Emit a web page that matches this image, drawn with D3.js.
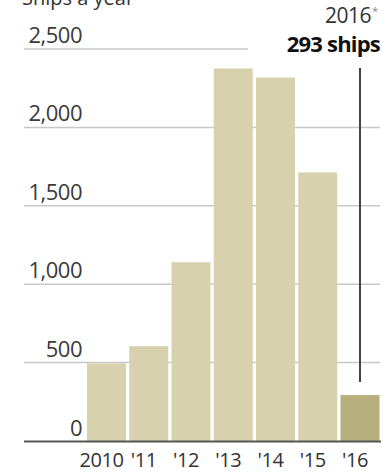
<!DOCTYPE html>
<html>
<head>
<meta charset="utf-8">
<script src="https://cdn.jsdelivr.net/npm/d3@7"></script>
<style>
  html, body { margin: 0; padding: 0; background: #fff; }
  svg { display: block; font-family: "Open Sans", "Noto Sans", sans-serif; }
</style>
</head>
<body>
<svg id="chart" width="383" height="472"></svg>
<script>
const categories = ["2010", "'11", "'12", "'13", "'14", "'15", "'16"];
const ships = [495, 605, 1140, 2376, 2318, 1713, 293];
const yTicks = [0, 500, 1000, 1500, 2000, 2500];
const highlightCategory = "'16";
const calloutYear = "2016";
const calloutValue = "293 ships";

const svg = d3.select("#chart");

const x = d3.scaleBand().domain(categories).range([87, 379.5]).paddingInner(0.077).paddingOuter(0);
const y = d3.scaleLinear().domain([0, 2500]).range([441, 49]);

// top title remnant (cut off at the top edge, as in the reference)
svg.append("text").attr("x", 22).attr("y", 5)
  .attr("font-size", 20).attr("fill", "#333").text("Ships a year");

// gridlines
svg.append("g").selectAll("line").data(yTicks.filter(d => d > 0)).join("line")
  .attr("x1", 24)
  .attr("x2", d => d === 2500 ? 248 : 380)
  .attr("y1", d => y(d)).attr("y2", d => y(d))
  .attr("stroke", "#c8c8c8").attr("stroke-width", 1.5);

// y labels
svg.append("g").selectAll("text").data(yTicks).join("text")
  .attr("x", 82)
  .attr("y", d => d === 0 ? 436 : y(d) - 6)
  .attr("text-anchor", "end")
  .attr("font-size", 22).attr("fill", "#3a3a3a")
  .attr("letter-spacing", -0.5)
  .text(d => d3.format(",")(d));

// bars
svg.append("g").selectAll("rect").data(categories).join("rect")
  .attr("x", d => x(d))
  .attr("width", x.bandwidth())
  .attr("y", (d, i) => y(ships[i]))
  .attr("height", (d, i) => y(0) - y(ships[i]))
  .attr("fill", d => d === highlightCategory ? "#b6ae7c" : "#d7d1ae");

// baseline
svg.append("line").attr("x1", 24).attr("x2", 381)
  .attr("y1", y(0) + 0.5).attr("y2", y(0) + 0.5)
  .attr("stroke", "#555").attr("stroke-width", 2);

// x labels
svg.append("g").selectAll("text").data(categories).join("text")
  .attr("x", d => x(d) + x.bandwidth() / 2 - 5)
  .attr("y", 467)
  .attr("text-anchor", "middle")
  .attr("font-size", 20).attr("fill", "#333")
  .attr("letter-spacing", -0.5)
  .text(d => d);

// callout
const hx = x(highlightCategory) + x.bandwidth() / 2;
const hi = categories.indexOf(highlightCategory);
svg.append("line").attr("x1", hx).attr("x2", hx)
  .attr("y1", 68).attr("y2", y(ships[hi]) - 13)
  .attr("stroke", "#444").attr("stroke-width", 2);

svg.append("text").attr("x", 371).attr("y", 23)
  .attr("text-anchor", "end").attr("font-size", 21).attr("fill", "#333")
  .attr("letter-spacing", -0.5)
  .text(calloutYear);
svg.append("text").attr("x", 372).attr("y", 15)
  .attr("font-size", 11).attr("fill", "#888").text("*");

svg.append("text").attr("x", 380).attr("y", 52)
  .attr("text-anchor", "end").attr("font-size", 22).attr("font-weight", "bold")
  .attr("fill", "#111").attr("letter-spacing", -0.8)
  .text(calloutValue);
</script>
</body>
</html>
